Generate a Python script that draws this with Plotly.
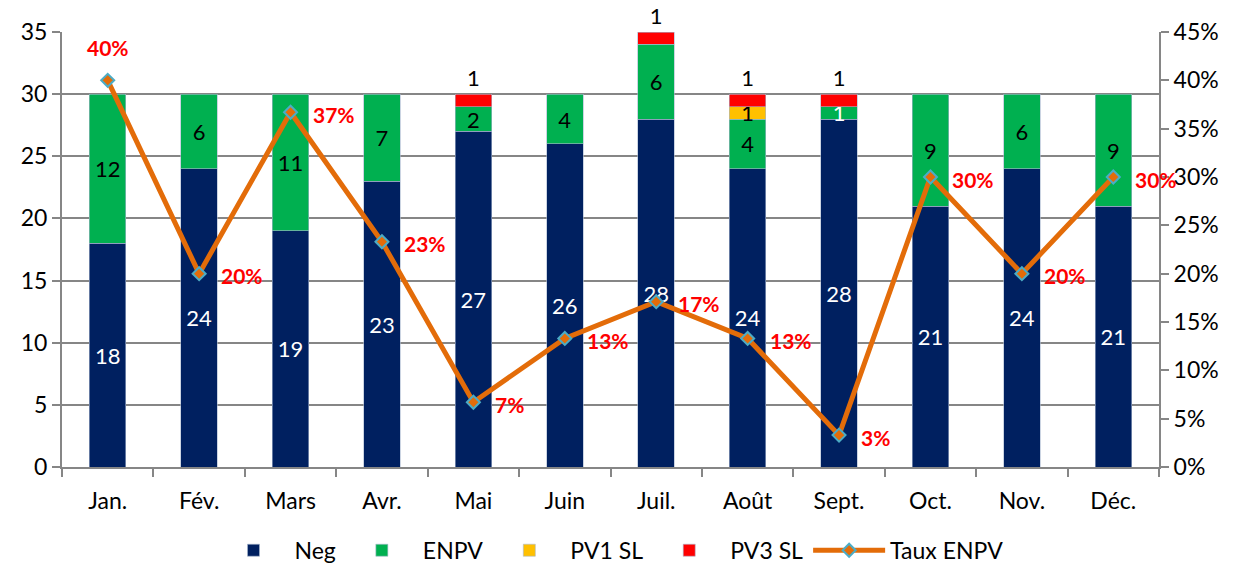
import plotly.graph_objects as go

months = ["Jan.", "Fév.", "Mars", "Avr.", "Mai", "Juin", "Juil.", "Août", "Sept.", "Oct.", "Nov.", "Déc."]
neg = [18, 24, 19, 23, 27, 26, 28, 24, 28, 21, 24, 21]
enpv = [12, 6, 11, 7, 2, 4, 6, 4, 1, 9, 6, 9]
pv1_sl = [None, None, None, None, None, None, None, 1, None, None, None, None]
pv3_sl = [None, None, None, None, 1, None, 1, 1, 1, None, None, None]
taux_enpv = [0.40, 0.20, 0.367, 0.233, 0.067, 0.133, 0.171, 0.133, 0.033, 0.30, 0.20, 0.30]

FONT = "Lato"
FS = 22
TFS = 23
C_NEG = "#002060"
C_ENPV = "#00B050"
C_PV1 = "#FFC000"
C_PV3 = "#FF0000"
C_LINE = "#E36C09"
C_MARK_EDGE = "#4BACC6"
C_AXIS = "#868686"

bar_edge = dict(color="#A9B8CF", width=0.6)

def labels(vals):
    return [("" if v is None else str(v)) for v in vals]

fig = go.Figure()

fig.add_trace(go.Bar(
    name="Neg", x=months, y=neg, marker=dict(color=C_NEG, line=bar_edge),
    text=labels(neg), textposition="inside", insidetextanchor="middle",
    textfont=dict(color="white", size=FS, family=FONT), textangle=0,
    constraintext="none",
))
enpv_colors = ["black"] * len(months)
enpv_colors[8] = "white"
fig.add_trace(go.Bar(
    name="ENPV", x=months, y=enpv, marker=dict(color=C_ENPV, line=bar_edge),
    text=labels(enpv), textposition="inside", insidetextanchor="middle",
    textfont=dict(color=enpv_colors, size=FS, family=FONT), textangle=0,
    constraintext="none",
))
fig.add_trace(go.Bar(
    name="PV1 SL", x=months, y=pv1_sl, marker=dict(color=C_PV1, line=bar_edge),
    text=labels(pv1_sl), textposition="inside", insidetextanchor="middle",
    textfont=dict(color="black", size=FS, family=FONT), textangle=0,
    constraintext="none",
))
fig.add_trace(go.Bar(
    name="PV3 SL", x=months, y=pv3_sl, marker=dict(color=C_PV3, line=bar_edge),
    text=labels(pv3_sl), textposition="outside",
    textfont=dict(color="black", size=FS, family=FONT), textangle=0,
    cliponaxis=False, constraintext="none",
))

fig.add_trace(go.Scatter(
    name="Taux ENPV", x=months, y=taux_enpv, yaxis="y2",
    mode="lines+markers",
    line=dict(color=C_LINE, width=5),
    marker=dict(symbol="diamond", size=10, color=C_LINE,
                line=dict(color=C_MARK_EDGE, width=2)),
    cliponaxis=False,
))

# percentage labels beside each marker (first one above it)
for i, (m, v) in enumerate(zip(months, taux_enpv)):
    if i == 0:
        fig.add_annotation(x=m, y=v, xref="x", yref="y2", text=f"{v:.0%}",
                           showarrow=False, yshift=33, xanchor="center",
                           font=dict(color="#FF0000", size=21, family=FONT, weight="bold"))
    else:
        fig.add_annotation(x=m, y=v, xref="x", yref="y2", text=f"{v:.0%}",
                           showarrow=False, xshift=20, xanchor="left", yshift=-2,
                           font=dict(color="#FF0000", size=21, family=FONT, weight="bold"))

fig.update_layout(
    width=1233, height=567,
    margin=dict(l=62, r=74, t=32, b=100, autoexpand=False),
    barmode="stack", bargap=0.6,
    uniformtext=dict(minsize=FS, mode="show"),
    plot_bgcolor="white", paper_bgcolor="white",
    font=dict(family=FONT, size=FS, color="black"),
    xaxis=dict(
        automargin=False, range=[-0.5, len(months) - 0.5],
        showline=True, linecolor=C_AXIS, linewidth=2,
        ticks="outside", tickson="boundaries", ticklen=8, tickcolor=C_AXIS,
        tickwidth=2, ticklabelstandoff=12,
        tickfont=dict(size=TFS, family=FONT),
    ),
    yaxis=dict(
        automargin=False,
        range=[0, 35], dtick=5, showline=True, linecolor=C_AXIS, linewidth=2,
        ticks="outside", ticklen=8, tickcolor=C_AXIS, tickwidth=2,
        showgrid=True, gridcolor=C_AXIS, gridwidth=2, zeroline=False,
        tickfont=dict(size=TFS, family=FONT),
    ),
    yaxis2=dict(
        automargin=False,
        range=[0, 0.45], dtick=0.05, tickformat=".0%", overlaying="y", side="right",
        showline=True, linecolor=C_AXIS, linewidth=2,
        ticks="outside", ticklen=8, tickcolor=C_AXIS, tickwidth=2,
        showgrid=False, zeroline=False,
        tickfont=dict(size=TFS, family=FONT),
    ),
    legend=dict(
        orientation="h", x=0.5, xanchor="center",
        yref="paper", y=-0.142, yanchor="top",
        font=dict(size=TFS, family=FONT), traceorder="normal",
        itemwidth=72,
    ),
)

fig.write_html("out.html")
